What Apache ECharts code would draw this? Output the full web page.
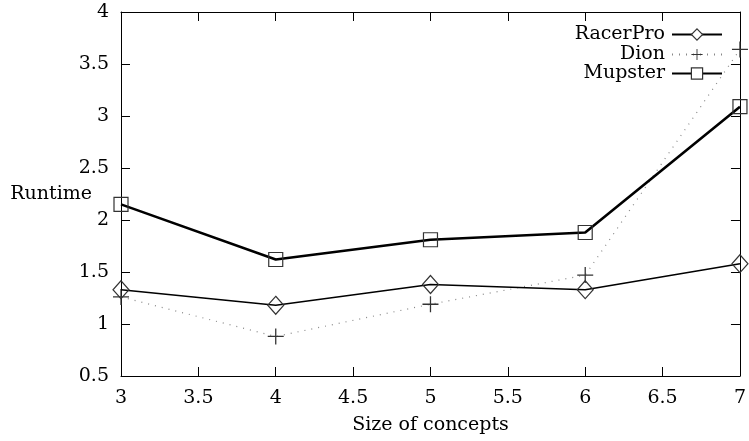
<!DOCTYPE html>
<html>
<head>
<meta charset="utf-8">
<script src="https://cdn.jsdelivr.net/npm/echarts@6/dist/echarts.min.js"></script>
<style>
  html, body { margin: 0; padding: 0; background: #fff; }
  #chart { width: 749px; height: 441px; }
</style>
</head>
<body>
<div id="chart"></div>
<script>
var sizes = [3, 4, 5, 6, 7];
var racerPro = [1.33, 1.18, 1.38, 1.33, 1.58];
var dion = [1.26, 0.88, 1.19, 1.47, 3.64];
var mupster = [2.15, 1.62, 1.81, 1.88, 3.09];

var font = 'DejaVu Serif';
var fs = 19;
var plusPath = 'path://M4.6,0H5.4V4.6H10V5.4H5.4V10H4.6V5.4H0V4.6H4.6Z';

function pairs(ys) {
    return sizes.map(function (x, i) { return [x, ys[i]]; });
}

var chart = echarts.init(document.getElementById('chart'));

var tickCfg = { show: true, inside: true, length: 9, lineStyle: { color: '#000', width: 1 } };
var lineCfg = { show: true, lineStyle: { color: '#000', width: 1 } };

// one legend per row so the samples line up at the right edge
function legendFor(name, top, filled) {
    return {
        data: [{
            name: name,
            itemStyle: filled ? { color: '#333', borderWidth: 0 }
                              : { color: '#fff', borderColor: '#333', borderWidth: 1.2 }
        }],
        right: 26,
        top: top,
        align: 'right',
        itemWidth: 50,
        itemHeight: 14,
        itemGap: 0,
        padding: 0,
        selectedMode: false,
        textStyle: { fontFamily: font, fontSize: fs, color: '#000', lineHeight: 18, padding: [0, 2, 0, 0] }
    };
}

chart.setOption({
    animation: false,
    backgroundColor: '#fff',
    grid: { left: 121, right: 6, top: 12, bottom: 65 },
    legend: [legendFor('RacerPro', 25, false), legendFor('Dion', 45, true), legendFor('Mupster', 64, false)],
    xAxis: [{
        type: 'value', min: 3, max: 7, interval: 0.5,
        name: 'Size of concepts', nameLocation: 'middle', nameGap: 40,
        nameTextStyle: { fontFamily: font, fontSize: fs, color: '#000' },
        axisLine: lineCfg, axisTick: tickCfg, splitLine: { show: false },
        axisLabel: { fontFamily: font, fontSize: fs, color: '#000', margin: 13 }
    }, {
        type: 'value', min: 3, max: 7, interval: 0.5, position: 'top',
        axisLine: lineCfg, axisTick: tickCfg, splitLine: { show: false },
        axisLabel: { show: false }
    }],
    yAxis: [{
        type: 'value', min: 0.5, max: 4, interval: 0.5,
        name: 'Runtime', nameLocation: 'middle', nameRotate: 0, nameGap: 29,
        nameMoveOverlap: false,
        nameTextStyle: { fontFamily: font, fontSize: fs, color: '#000', align: 'right' },
        axisLine: lineCfg, axisTick: tickCfg, splitLine: { show: false },
        axisLabel: { fontFamily: font, fontSize: fs, color: '#000', margin: 12 }
    }, {
        type: 'value', min: 0.5, max: 4, interval: 0.5, position: 'right',
        axisLine: lineCfg, axisTick: tickCfg, splitLine: { show: false },
        axisLabel: { show: false }
    }],
    series: [{
        name: 'RacerPro', type: 'line', data: pairs(racerPro),
        symbol: 'diamond', symbolSize: [16, 18],
        lineStyle: { color: '#000', width: 1.6 },
        itemStyle: { color: 'rgba(0,0,0,0)', borderColor: '#333', borderWidth: 1.2 },
        z: 3
    }, {
        name: 'Dion', type: 'line', data: pairs(dion),
        symbol: plusPath, symbolSize: 16,
        lineStyle: { color: '#888', width: 1.2, type: [1, 6] },
        itemStyle: { color: '#333', borderWidth: 0 },
        z: 2
    }, {
        name: 'Mupster', type: 'line', data: pairs(mupster),
        symbol: 'rect', symbolSize: 14,
        lineStyle: { color: '#000', width: 2.6 },
        itemStyle: { color: 'rgba(0,0,0,0)', borderColor: '#333', borderWidth: 1.2 },
        z: 4
    }]
});
</script>
</body>
</html>
